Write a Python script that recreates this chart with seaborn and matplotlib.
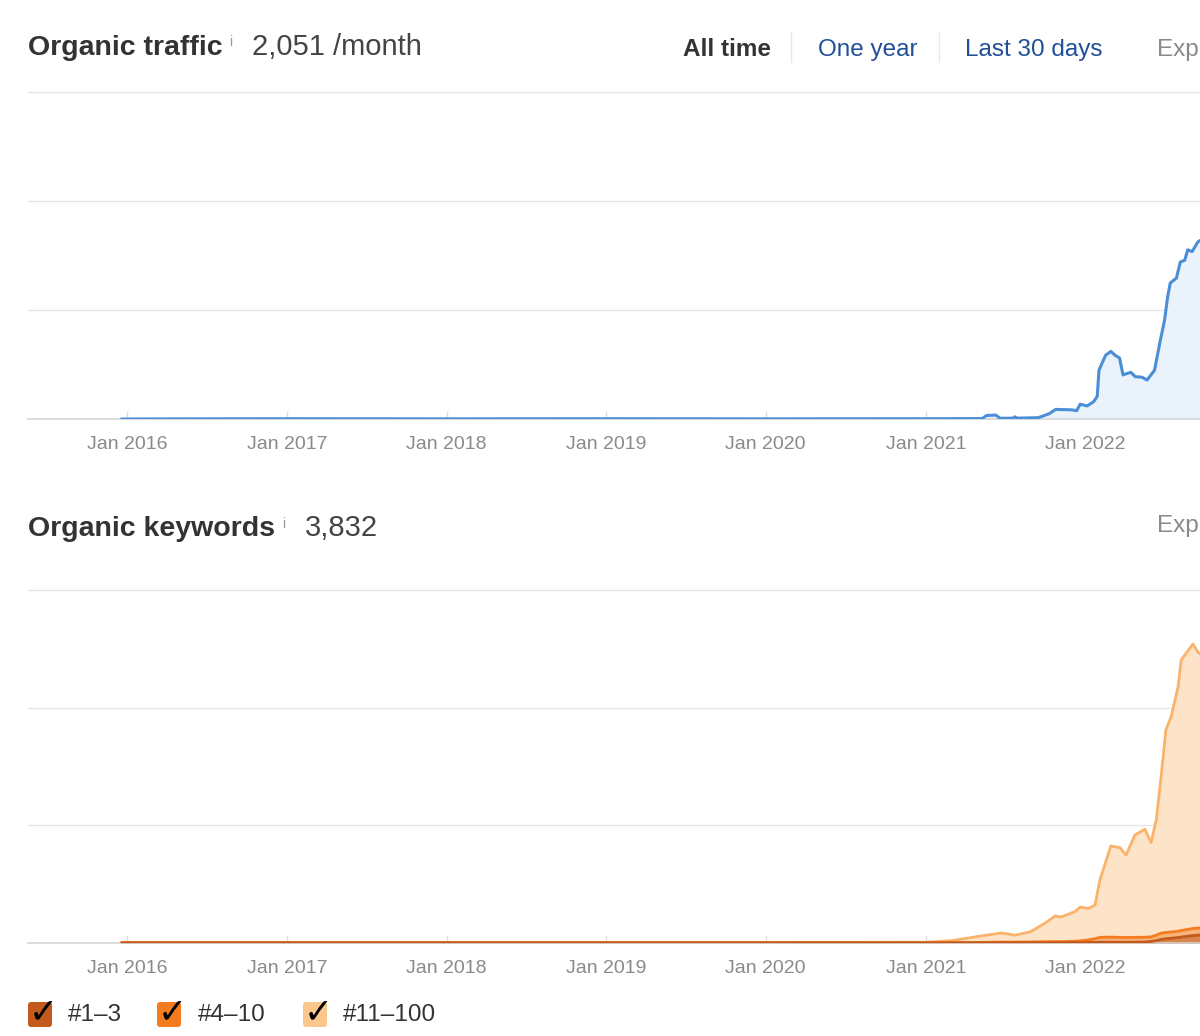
# %% Organic traffic / keywords charts
import pandas as pd
import numpy as np
import seaborn as sns
import matplotlib.pyplot as plt
import matplotlib.dates as mdates
from matplotlib.patches import FancyBboxPatch
from matplotlib.transforms import IdentityTransform

sns.set_theme(style='white')
plt.rcParams['font.family'] = ['Liberation Sans', 'DejaVu Sans']

# Traffic data (estimated from the chart)
traffic_dates = ['2015-12-20', '2016-06-01', '2017-01-01', '2018-01-01', '2019-01-01',
                 '2020-01-01', '2021-01-01', '2021-05-10', '2021-05-20', '2021-06-10',
                 '2021-06-20', '2021-07-20', '2021-07-24', '2021-07-28', '2021-09-15',
                 '2021-10-10', '2021-10-25', '2021-12-01', '2021-12-12', '2021-12-20',
                 '2022-01-05', '2022-01-20', '2022-01-28', '2022-02-01', '2022-02-08',
                 '2022-02-16', '2022-02-28', '2022-03-10', '2022-03-20', '2022-03-28',
                 '2022-04-05', '2022-04-15', '2022-04-25', '2022-05-10', '2022-05-22',
                 '2022-06-08', '2022-06-20', '2022-07-01', '2022-07-08', '2022-07-14',
                 '2022-07-28', '2022-08-06', '2022-08-16', '2022-08-23', '2022-09-02',
                 '2022-09-15', '2022-10-01']
traffic_values = [0, 2, 3, 2, 3, 2, 3, 5, 40, 45, 8, 10, 25, 10, 15, 60, 110, 105, 95, 170,
                  150, 200, 260, 560, 640, 730, 775, 730, 700, 505, 520, 535, 485, 480, 447,
                  560, 870, 1135, 1400, 1560, 1615, 1800, 1820, 1940, 1920, 2030, 2080]

# Keywords data by position group (estimated)
kw_dates = ['2015-12-20', '2016-06-01', '2017-01-01', '2018-01-01', '2019-01-01',
            '2020-01-01', '2021-01-01', '2021-03-01', '2021-05-08', '2021-06-23',
            '2021-07-24', '2021-08-29', '2021-10-01', '2021-10-24', '2021-11-06',
            '2021-12-08', '2021-12-20', '2022-01-08', '2022-01-23', '2022-02-03',
            '2022-02-28', '2022-03-21', '2022-04-04', '2022-04-24', '2022-05-17',
            '2022-05-31', '2022-06-12', '2022-06-23', '2022-07-04', '2022-07-16',
            '2022-08-01', '2022-08-08', '2022-08-20', '2022-09-04', '2022-09-16',
            '2022-10-01']
kw_top3 = [2, 2, 2, 2, 2, 2, 2, 2, 3, 3, 3, 3, 4, 5, 5, 6, 6, 8, 8, 10, 10, 10, 10, 10, 12,
           20, 30, 45, 55, 60, 70, 75, 85, 95, 100, 105]
kw_top10 = [2, 2, 2, 2, 2, 2, 2, 3, 5, 9, 9, 11, 12, 13, 13, 16, 22, 32, 47, 62, 65, 62, 60,
            62, 62, 58, 70, 80, 80, 80, 80, 85, 85, 90, 90, 90]
kw_top100 = [4, 4, 4, 4, 4, 4, 6, 25, 82, 116, 88, 130, 239, 327, 312, 378, 430, 400, 430,
             728, 1161, 1143, 1050, 1304, 1376, 1202, 1467, 1995, 2580, 2745, 3117, 3447,
             3530, 3625, 3510, 3455]
legend_labels = ['#1\u20133', '#4\u201310', '#11\u2013100']
year_ticks = ['2016-01-01', '2017-01-01', '2018-01-01', '2019-01-01', '2020-01-01',
              '2021-01-01', '2022-01-01']

traffic = pd.DataFrame({'date': pd.to_datetime(traffic_dates), 'value': traffic_values})
kw = pd.DataFrame({'date': pd.to_datetime(kw_dates), 'top3': kw_top3,
                   'top10': kw_top10, 'top100': kw_top100})
# stacked totals
kw['c1'] = kw['top3']
kw['c2'] = kw['c1'] + kw['top10']
kw['c3'] = kw['c2'] + kw['top100']

W, H = 1200, 1036
fig = plt.figure(figsize=(W / 100, H / 100), dpi=100)


def px(x, y):
    return x / W, 1 - y / H


xlim = (pd.Timestamp('2015-05-20'), pd.Timestamp('2022-09-20'))


def style_axis(ax, step, top):
    ax.set_xlim(*xlim)
    ax.set_ylim(0, top)
    for v in np.arange(step, top, step):
        ax.axhline(v, color='#e6e6e6', lw=1.0, zorder=0)
    ax.set_yticks([])
    for s in ['top', 'left', 'right']:
        ax.spines[s].set_visible(False)
    ax.spines['bottom'].set_color('#d4d4d4')
    ax.spines['bottom'].set_linewidth(1.2)
    ax.set_xticks(pd.to_datetime(year_ticks))
    ax.xaxis.set_major_formatter(mdates.DateFormatter('%b %Y'))
    ax.tick_params(axis='x', direction='in', length=6, width=1, color='#dddddd',
                   labelsize=14, labelcolor='#8a8a8a', pad=12.5, bottom=True)
    ax.set_xlabel('')
    ax.set_ylabel('')


# --- Top: organic traffic
ax1 = fig.add_axes([28 / W, (H - 419) / H, 1172 / W, (419 - 87.6) / H])
ax1.fill_between(traffic['date'], traffic['value'], color='#eaf2fc', zorder=1)
sns.lineplot(data=traffic, x='date', y='value', color='#4a8fd6', lw=2.2, ax=ax1, zorder=3)
style_axis(ax1, 1250, 3800)

# --- Bottom: organic keywords
ax2 = fig.add_axes([28 / W, (H - 943) / H, 1172 / W, (943 - 585.2) / H])
ax2.fill_between(kw['date'], kw['c2'], kw['c3'], color='#fde3c7', zorder=1)
ax2.fill_between(kw['date'], kw['c1'], kw['c2'], color='#f9b27a', zorder=1)
ax2.fill_between(kw['date'], 0, kw['c1'], color='#d9854d', zorder=1)
sns.lineplot(data=kw, x='date', y='c3', color='#fbb26a', lw=2, ax=ax2, zorder=3)
sns.lineplot(data=kw, x='date', y='c2', color='#f47c20', lw=2, ax=ax2, zorder=3)
sns.lineplot(data=kw, x='date', y='c1', color='#c25a1c', lw=2, ax=ax2, zorder=3)
style_axis(ax2, 1500, 4560)

# --- Header texts
fig.text(*px(28, 55), 'Organic traffic', fontsize=20.5, fontweight='bold', color='#333333')
fig.text(*px(229, 46), 'i', fontsize=10, color='#999999')
fig.text(*px(252, 55), '2,051 /month', fontsize=21, color='#444444')
fig.text(*px(683, 56), 'All time', fontsize=17.5, fontweight='bold', color='#333333')
fig.text(*px(818, 56), 'One year', fontsize=17.5, color='#1f4f96')
fig.text(*px(965, 56), 'Last 30 days', fontsize=17.5, color='#1f4f96')
fig.text(*px(1199, 56), 'Exp', fontsize=17.5, color='#8a8a8a', ha='right')
for sx in [791, 939]:
    fig.add_artist(plt.Line2D([sx / W, sx / W], [1 - 32 / H, 1 - 62 / H],
                              color='#e8e8e8', lw=1))

fig.text(*px(28, 536), 'Organic keywords', fontsize=20.5, fontweight='bold', color='#333333')
fig.text(*px(282, 528), 'i', fontsize=10, color='#999999')
fig.text(*px(305, 536), '3,832', fontsize=21, color='#444444')
fig.text(*px(1199, 532), 'Exp', fontsize=17.5, color='#8a8a8a', ha='right')

# --- Legend with check boxes
box_colors = ['#c25a1c', '#f47c20', '#fcc78c']
box_x = [28, 157, 303]
label_x = [68, 198, 343]
for bx, lx, c, lab in zip(box_x, label_x, box_colors, legend_labels):
    fig.add_artist(FancyBboxPatch((bx, H - 1027), 24, 25,
                                  boxstyle='round,pad=0,rounding_size=3',
                                  fc=c, ec='none', transform=IdentityTransform()))
    fig.text(*px(bx + 15, 1012), '\u2713', fontsize=25, fontweight='bold', color='black',
             family='DejaVu Sans', ha='center', va='center')
    fig.text(*px(lx, 1015), lab, fontsize=17.5, color='#333333', va='center')

plt.savefig('out.png', dpi=100)
